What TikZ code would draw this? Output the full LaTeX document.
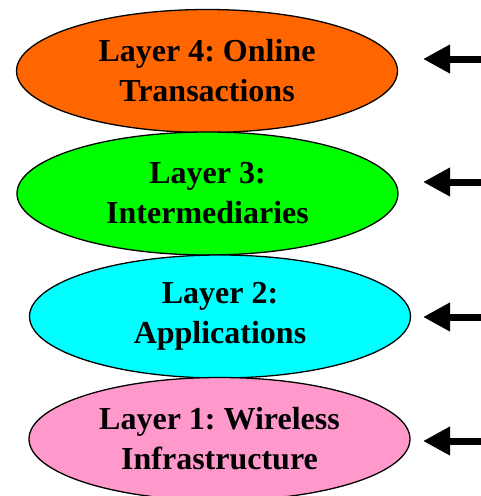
\documentclass[tikz,border=0pt]{standalone}
\usepackage{fontspec}
\setmainfont{Liberation Serif}
\frenchspacing
\usetikzlibrary{shapes.geometric,arrows.meta}
\definecolor{layerorange}{HTML}{FF6600}
\definecolor{layergreen}{HTML}{00FF00}
\definecolor{layercyan}{HTML}{00FFFF}
\definecolor{layerpink}{HTML}{FF99CC}
\tikzset{
  layer/.style={ellipse,draw,line width=1.3pt,minimum width=381pt,minimum height=123pt,
    inner sep=0pt,align=center,font=\fontsize{32}{40}\selectfont\bfseries},
  pointer/.style={line width=7pt,-{Triangle[length=27pt,width=27pt]}}
}
\begin{document}
\begin{tikzpicture}[x=1pt,y=-1pt]
  \useasboundingbox (0,0) rectangle (480,496);
  % the four layers, top to bottom
  \node[layer,fill=layerorange] (l4) at (207,71) {Layer 4: Online\\Transactions};
  \node[layer,fill=layergreen] (l3) at (207.5,193.5) {Layer 3:\\Intermediaries};
  \node[layer,fill=layercyan] (l2) at (220,316.5) {Layer 2:\\Applications};
  \node[layer,fill=layerpink] (l1) at (219.5,439) {Layer 1: Wireless\\Infrastructure};
  % arrows coming in from the right
  \coordinate (s4) at (482,59);  \coordinate (t4) at (423,59);
  \coordinate (s3) at (482,182); \coordinate (t3) at (423,182);
  \coordinate (s2) at (482,317); \coordinate (t2) at (423,317);
  \coordinate (s1) at (482,441); \coordinate (t1) at (423,441);
  \draw[pointer] (s4) -- (t4);
  \draw[pointer] (s3) -- (t3);
  \draw[pointer] (s2) -- (t2);
  \draw[pointer] (s1) -- (t1);
\end{tikzpicture}
\end{document}
